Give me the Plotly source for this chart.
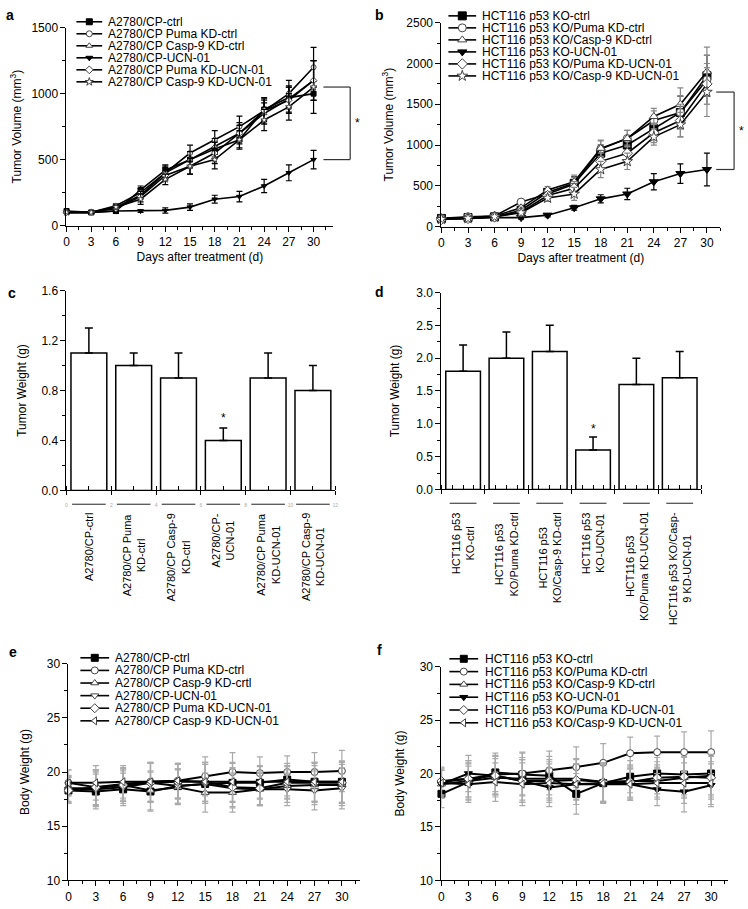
import plotly.graph_objects as go

W, H = 748, 909
FONT = "Arial, 'Liberation Sans', Helvetica, sans-serif"

days = [0, 3, 6, 9, 12, 15, 18, 21, 24, 27, 30]

# --- a : A2780/CP tumour volume (mm3)
a_names = ["A2780/CP-ctrl", "A2780/CP Puma KD-ctrl", "A2780/CP Casp-9 KD-ctrl",
           "A2780/CP-UCN-01", "A2780/CP Puma KD-UCN-01", "A2780/CP Casp-9 KD-UCN-01"]
a_ctrl = [110, 100, 110, 270, 420, 500, 580, 650, 880, 970, 1000]
a_ctrl_err = [15, 10, 15, 30, 40, 60, 60, 60, 80, 80, 50]
a_puma = [100, 100, 150, 250, 400, 550, 650, 750, 870, 1000, 1200]
a_puma_err = [10, 10, 15, 30, 50, 60, 70, 80, 100, 100, 150]
a_casp = [100, 100, 140, 230, 400, 500, 600, 700, 850, 960, 1100]
a_casp_err = [10, 10, 15, 30, 40, 60, 60, 60, 80, 100, 150]
a_ucn = [100, 100, 110, 110, 115, 140, 200, 220, 300, 400, 500]
a_ucn_err = [10, 10, 10, 10, 20, 25, 30, 40, 50, 60, 70]
a_puma_ucn = [100, 100, 130, 220, 380, 450, 550, 700, 870, 950, 1100]
a_puma_ucn_err = [10, 10, 15, 40, 40, 60, 80, 80, 80, 100, 150]
a_casp_ucn = [100, 100, 140, 200, 350, 450, 500, 650, 800, 900, 1050]
a_casp_ucn_err = [10, 10, 15, 40, 40, 60, 70, 70, 80, 100, 200]

# --- b : HCT116 p53 KO tumour volume (mm3)
b_names = ["HCT116 p53 KO-ctrl", "HCT116 p53 KO/Puma KD-ctrl", "HCT116 p53 KO/Casp-9 KD-ctrl",
           "HCT116 p53 KO-UCN-01", "HCT116 p53 KO/Puma KD-UCN-01", "HCT116 p53 KO/Casp-9 KD-UCN-01"]
b_ctrl = [100, 110, 120, 200, 420, 530, 900, 1000, 1200, 1400, 1850]
b_ctrl_err = [10, 10, 15, 30, 40, 80, 100, 100, 100, 200, 250]
b_puma = [100, 120, 130, 300, 400, 520, 950, 1080, 1300, 1400, 1800]
b_puma_err = [10, 10, 15, 30, 40, 80, 100, 100, 120, 200, 300]
b_casp = [100, 110, 130, 230, 450, 550, 960, 1080, 1350, 1500, 1900]
b_casp_err = [10, 10, 15, 30, 40, 80, 100, 100, 100, 200, 300]
b_ucn = [90, 100, 110, 110, 140, 230, 340, 400, 550, 650, 700]
b_ucn_err = [10, 10, 10, 20, 20, 30, 50, 70, 100, 120, 200]
b_puma_ucn = [90, 100, 120, 180, 380, 470, 800, 900, 1150, 1300, 1750]
b_puma_ucn_err = [10, 10, 15, 30, 40, 80, 100, 100, 120, 200, 250]
b_casp_ucn = [90, 100, 120, 170, 350, 400, 700, 800, 1100, 1250, 1650]
b_casp_ucn_err = [10, 10, 15, 30, 40, 80, 100, 100, 100, 150, 300]

# --- c : A2780/CP tumour weight (g)
c_labels = ["A2780/CP-ctrl", "A2780/CP Puma<br>KD-ctrl", "A2780/CP Casp-9<br>KD-ctrl",
            "A2780/CP-<br>UCN-01", "A2780/CP Puma<br>KD-UCN-01", "A2780/CP Casp-9<br>KD-UCN-01"]
c_pos = [1, 3, 5, 7, 9, 11]
c_vals = [1.1, 1.0, 0.9, 0.4, 0.9, 0.8]
c_err = [0.2, 0.1, 0.2, 0.1, 0.2, 0.2]

# --- d : HCT116 p53 KO tumour weight (g)
d_labels = ["HCT116 p53<br>KO-ctrl", "HCT116 p53<br>KO/Puma KD-ctrl", "HCT116 p53<br>KO/Casp-9 KD-ctrl",
            "HCT116 p53<br>KO-UCN-01", "HCT116 p53<br>KO/Puma KD-UCN-01", "HCT116 p53 KO/Casp-<br>9 KD-UCN-01"]
d_pos = [1, 2, 3, 4, 5, 6]
d_vals = [1.8, 2.0, 2.1, 0.6, 1.6, 1.7]
d_err = [0.4, 0.4, 0.4, 0.2, 0.4, 0.4]

# --- e : A2780/CP body weight (g)
e_names = ["A2780/CP-ctrl", "A2780/CP Puma KD-ctrl", "A2780/CP Casp-9 KD-crtl",
           "A2780/CP-UCN-01", "A2780/CP Puma KD-UCN-01", "A2780/CP Casp-9 KD-UCN-01"]
e_ctrl = [18.3, 18.2, 18.4, 18.2, 18.7, 18.9, 19.0, 19.0, 19.3, 19.1, 19.1]
e_puma = [19.0, 18.6, 18.9, 19.1, 19.2, 19.6, 20.0, 19.9, 20.0, 20.0, 20.1]
e_casp = [18.5, 18.5, 18.8, 18.3, 18.6, 18.1, 18.1, 18.4, 18.7, 18.8, 18.8]
e_ucn = [18.4, 18.4, 18.6, 19.0, 18.7, 18.9, 18.5, 18.4, 18.4, 18.3, 18.5]
e_puma_ucn = [18.3, 18.6, 18.8, 19.0, 19.1, 19.1, 18.6, 18.5, 19.0, 19.0, 19.0]
e_casp_ucn = [19.0, 19.0, 19.1, 19.1, 19.2, 19.1, 19.1, 19.1, 19.1, 19.1, 19.1]
e_err = [1.2, 1.6, 1.5, 1.8, 1.6, 1.8, 1.8, 1.5, 1.5, 1.8, 1.9]

# --- f : HCT116 p53 KO body weight (g)
f_names = b_names
f_ctrl = [18.1, 19.2, 20.1, 19.9, 19.8, 18.1, 19.1, 19.7, 20.0, 19.9, 20.0]
f_puma = [19.2, 19.5, 19.9, 20.0, 20.3, 20.6, 21.0, 21.9, 22.0, 22.0, 22.0]
f_casp = [19.0, 19.3, 19.6, 19.5, 19.5, 19.5, 19.2, 19.3, 19.3, 19.6, 19.8]
f_ucn = [19.0, 20.0, 19.8, 19.3, 18.7, 19.0, 19.0, 19.0, 18.5, 18.3, 18.9]
f_puma_ucn = [19.3, 19.5, 19.8, 19.3, 19.3, 19.4, 19.2, 19.2, 19.6, 19.7, 19.6]
f_casp_ucn = [19.1, 19.0, 19.2, 19.0, 19.1, 19.0, 19.1, 19.0, 19.1, 19.1, 19.1]
f_err = [1.3, 1.7, 1.8, 2.0, 1.8, 1.9, 1.8, 1.5, 1.5, 1.9, 2.0]

# panel geometry in pixels (x0, x1), (ytop, ybottom)
P = {
    'a': dict(x=(64, 333), y=(21, 222), xr=[0, 32.4], yr=[0, 1500], ax='', ms=5, lw=1.6),
    'b': dict(x=(442, 723), y=(16, 223), xr=[0, 31.5], yr=[0, 2500], ax='2', ms=8, lw=1.6),
    'c': dict(x=(64, 335), y=(288, 491), xr=[0, 12], yr=[0, 1.6], ax='3'),
    'd': dict(x=(442, 704), y=(290, 490), xr=[0.5, 6.5], yr=[0, 3], ax='4'),
    'e': dict(x=(66, 360), y=(667, 887), xr=[0, 32], yr=[10, 30], ax='5', ms=7, lw=2),
    'f': dict(x=(442, 731), y=(670, 887), xr=[0, 31.9], yr=[10, 30], ax='6', ms=7, lw=2),
}


def px_x(p, v):
    return p['x'][0] + (v - p['xr'][0]) / (p['xr'][1] - p['xr'][0]) * (p['x'][1] - p['x'][0])


def px_y(p, v):
    return p['y'][1] - (v - p['yr'][0]) / (p['yr'][1] - p['yr'][0]) * (p['y'][1] - p['y'][0])


# symbol, fill
sty_ab = [('square', 'black'), ('circle', 'white'), ('triangle-up', 'white'),
          ('triangle-down', 'black'), ('diamond', 'white'), ('star', 'white')]
sty_e = [('square', 'black'), ('circle', 'white'), ('triangle-up', 'white'),
         ('triangle-down', 'white'), ('diamond', 'white'), ('triangle-left', 'white')]
sty_f = [('square', 'black'), ('circle', 'white'), ('triangle-up', 'white'),
         ('triangle-down', 'black'), ('diamond', 'white'), ('triangle-left', 'white')]

fig = go.Figure()


def add_lines(p, series, errs, styles, errcol_open='#777', errcol_fill='black'):
    ax = p['ax']
    for ys, es, (sym, fill) in zip(series, errs, styles):
        fig.add_trace(go.Scatter(
            x=days, y=ys, mode='lines+markers', cliponaxis=False,
            xaxis='x' + ax, yaxis='y' + ax, showlegend=False,
            line=dict(color='black', width=p['lw']),
            marker=dict(symbol=sym, size=p['ms'], color=fill,
                        line=dict(color='black' if fill == 'black' else '#444', width=1)),
            error_y=dict(type='data', array=es, color=errcol_fill if fill == 'black' else errcol_open,
                         thickness=1.2, width=3),
        ))


add_lines(P['a'], [a_ctrl, a_puma, a_casp, a_ucn, a_puma_ucn, a_casp_ucn],
          [a_ctrl_err, a_puma_err, a_casp_err, a_ucn_err, a_puma_ucn_err, a_casp_ucn_err],
          sty_ab, errcol_open='black')
add_lines(P['b'], [b_ctrl, b_puma, b_casp, b_ucn, b_puma_ucn, b_casp_ucn],
          [b_ctrl_err, b_puma_err, b_casp_err, b_ucn_err, b_puma_ucn_err, b_casp_ucn_err],
          sty_ab, errcol_open='#888')
add_lines(P['e'], [e_ctrl, e_puma, e_casp, e_ucn, e_puma_ucn, e_casp_ucn], [e_err] * 6,
          sty_e, errcol_open='#aaa', errcol_fill='#aaa')
add_lines(P['f'], [f_ctrl, f_puma, f_casp, f_ucn, f_puma_ucn, f_casp_ucn], [f_err] * 6,
          sty_f, errcol_open='#aaa', errcol_fill='#aaa')

# bar panels
for key, pos, vals, err, bw in [('c', c_pos, c_vals, c_err, 1.6), ('d', d_pos, d_vals, d_err, 0.8)]:
    ax = P[key]['ax']
    fig.add_trace(go.Bar(
        x=pos, y=vals, width=bw, xaxis='x' + ax, yaxis='y' + ax, showlegend=False,
        marker=dict(color='white', line=dict(color='black', width=1.5)),
        error_y=dict(type='data', array=err, arrayminus=[0] * len(err), symmetric=False,
                     color='black', thickness=1.5, width=4),
    ))

# axes
def base_axis(**kw):
    d = dict(showline=True, linecolor='black', linewidth=1, ticks='outside', ticklen=5,
             tickcolor='black', tickwidth=1, showgrid=False, zeroline=False,
             tickfont=dict(size=12, color='black', family=FONT), fixedrange=True)
    d.update(kw)
    return d


layout_axes = {}
for key, p in P.items():
    ax = p['ax']
    xd = [p['x'][0] / W, p['x'][1] / W]
    yd = [1 - p['y'][1] / H, 1 - p['y'][0] / H]
    layout_axes['xaxis' + ax] = dict(domain=xd, range=p['xr'], anchor='y' + ax)
    layout_axes['yaxis' + ax] = dict(domain=yd, range=p['yr'], anchor='x' + ax)

for key in ['a', 'b', 'e', 'f']:
    ax = P[key]['ax']
    layout_axes['xaxis' + ax].update(base_axis(
        tick0=0, dtick=3, minor=dict(dtick=1.5, ticks='outside', ticklen=3, tickcolor='black')))

ytit = {'a': ("Tumor Volume (mm<sup>3</sup>)", 500, 250, 7),
        'b': ("Tumor Volume (mm<sup>3</sup>)", 500, 250, 10),
        'c': ("Tumor Weight (g)", 0.4, 0.2, 12),
        'd': ("Tumor Weight (g)", 0.5, 0.25, 14),
        'e': ("Body Weight (g)", 5, 2.5, 14),
        'f': ("Body Weight (g)", 5, 2.5, 12)}
for key, (t, dt, mdt, so) in ytit.items():
    ax = P[key]['ax']
    kw = dict(tick0=P[key]['yr'][0], dtick=dt,
              minor=dict(dtick=mdt, ticks='outside', ticklen=3, tickcolor='black'),
              title=dict(text=t, font=dict(size=12, family=FONT, color='black'), standoff=so))
    if key in ('c', 'd'):
        kw['tickformat'] = '.1f'
    layout_axes['yaxis' + ax].update(base_axis(**kw))

for key in ['a', 'b']:
    ax = P[key]['ax']
    layout_axes['xaxis' + ax]['title'] = dict(text="Days after treatment (d)",
                                              font=dict(size=12, family=FONT, color='black'), standoff=4)

layout_axes['xaxis3'].update(base_axis(
    tick0=0, dtick=2, ticklen=4, ticklabelstandoff=6,
    tickfont=dict(size=5, color='#aaa', family=FONT),
    minor=dict(dtick=1, ticks='inside', ticklen=4, tickcolor='black')))
layout_axes['xaxis4'].update(base_axis(
    tick0=0.5, dtick=1, ticklen=4, showticklabels=False,
    minor=dict(dtick=0.25, ticks='inside', ticklen=4, tickcolor='black')))

# overlay axes in pixel units for legends, brackets and panel letters
layout_axes['xaxis7'] = dict(domain=[0, 1], range=[0, W], anchor='y7', visible=False, fixedrange=True)
layout_axes['yaxis7'] = dict(domain=[0, 1], range=[H, 0], anchor='x7', visible=False, fixedrange=True)

annotations = []
shapes = []

# hand-drawn legends (rows are tighter than plotly's own legend allows)
legends = [
    (a_names, sty_ab, 74, 100, 104, 15, 12.2, 6),
    (b_names, sty_ab, 449, 477, 481, 9, 12.2, 8),
    (e_names, sty_e, 78, 107, 111, 661, 12.8, 7),
    (f_names, sty_f, 450, 479, 484, 662, 13.0, 7),
]
for names, styles, lx0, lx1, tx, y0, dy, ms in legends:
    for i, (name, (sym, fill)) in enumerate(zip(names, styles)):
        yy = y0 + i * dy
        fig.add_trace(go.Scatter(x=[lx0, lx1], y=[yy, yy], mode='lines', xaxis='x7', yaxis='y7',
                                 line=dict(color='black', width=1.6), showlegend=False, hoverinfo='skip'))
        fig.add_trace(go.Scatter(x=[(lx0 + lx1) / 2], y=[yy], mode='markers', xaxis='x7', yaxis='y7',
                                 marker=dict(symbol=sym, size=ms, color=fill,
                                             line=dict(color='black' if fill == 'black' else '#444', width=1)),
                                 showlegend=False, hoverinfo='skip'))
        annotations.append(dict(x=tx, y=yy, xref='x7', yref='y7', text=name, showarrow=False,
                                xanchor='left', yanchor='middle', height=12,
                                font=dict(size=12, family=FONT, color='black')))

# significance brackets
for key, lo, hi, bx, hx in [('a', a_ucn[-1], a_casp_ucn[-1], 350, 323),
                             ('b', b_ucn[-1], b_casp_ucn[-1], 737, 719)]:
    p = P[key]
    ylo, yhi = px_y(p, lo), px_y(p, hi)
    line = dict(color='#333', width=1.2)
    shapes += [dict(type='line', xref='x7', yref='y7', x0=bx, x1=bx, y0=ylo, y1=yhi, line=line),
               dict(type='line', xref='x7', yref='y7', x0=hx, x1=bx, y0=ylo, y1=ylo, line=line),
               dict(type='line', xref='x7', yref='y7', x0=hx, x1=bx, y0=yhi, y1=yhi, line=line)]
    annotations.append(dict(x=bx + 7, y=(ylo + yhi) / 2, xref='x7', yref='y7', text='*', showarrow=False,
                            font=dict(size=12, family=FONT, color='black')))

# asterisks above the UCN-01 bars
for key, pos, vals, err, off in [('c', c_pos, c_vals, c_err, 0.08), ('d', d_pos, d_vals, d_err, 0.12)]:
    ax = P[key]['ax']
    annotations.append(dict(x=pos[3], y=vals[3] + err[3] + off, xref='x' + ax, yref='y' + ax,
                            text='*', showarrow=False, font=dict(size=12, family=FONT, color='black')))

# category labels under bar panels
for key, pos, labels, ytop, seg, sy in [('c', c_pos, c_labels, 512, 0.75, 505),
                                        ('d', d_pos, d_labels, 511, 0.31, 504)]:
    p = P[key]
    for xv, lab in zip(pos, labels):
        annotations.append(dict(x=xv, y=ytop, xref='x' + p['ax'], yref='y7', text=lab, textangle=-90,
                                showarrow=False, xanchor='center', yanchor='top', align='center',
                                font=dict(size=11, family=FONT, color='black')))
        shapes.append(dict(type='line', xref='x7', yref='y7', x0=px_x(p, xv - seg), x1=px_x(p, xv + seg),
                           y0=sy, y1=sy, line=dict(color='#222', width=1)))

# panel letters
for letter, lx, ly in [('a', 7, 8), ('b', 380, 8), ('c', 9, 290), ('d', 380, 289), ('e', 10, 655), ('f', 380, 653)]:
    annotations.append(dict(x=lx, y=ly, xref='x7', yref='y7', text='<b>%s</b>' % letter, showarrow=False,
                            xanchor='center', yanchor='middle', font=dict(size=14, family=FONT, color='black')))

fig.update_layout(
    width=W, height=H, margin=dict(l=0, r=0, t=0, b=0),
    paper_bgcolor='white', plot_bgcolor='rgba(0,0,0,0)',
    font=dict(family=FONT, size=12, color='black'),
    showlegend=False, annotations=annotations, shapes=shapes,
    **layout_axes,
)

fig.write_html("out.html", config={'displayModeBar': False},
               post_script="document.body.style.margin='0';")
